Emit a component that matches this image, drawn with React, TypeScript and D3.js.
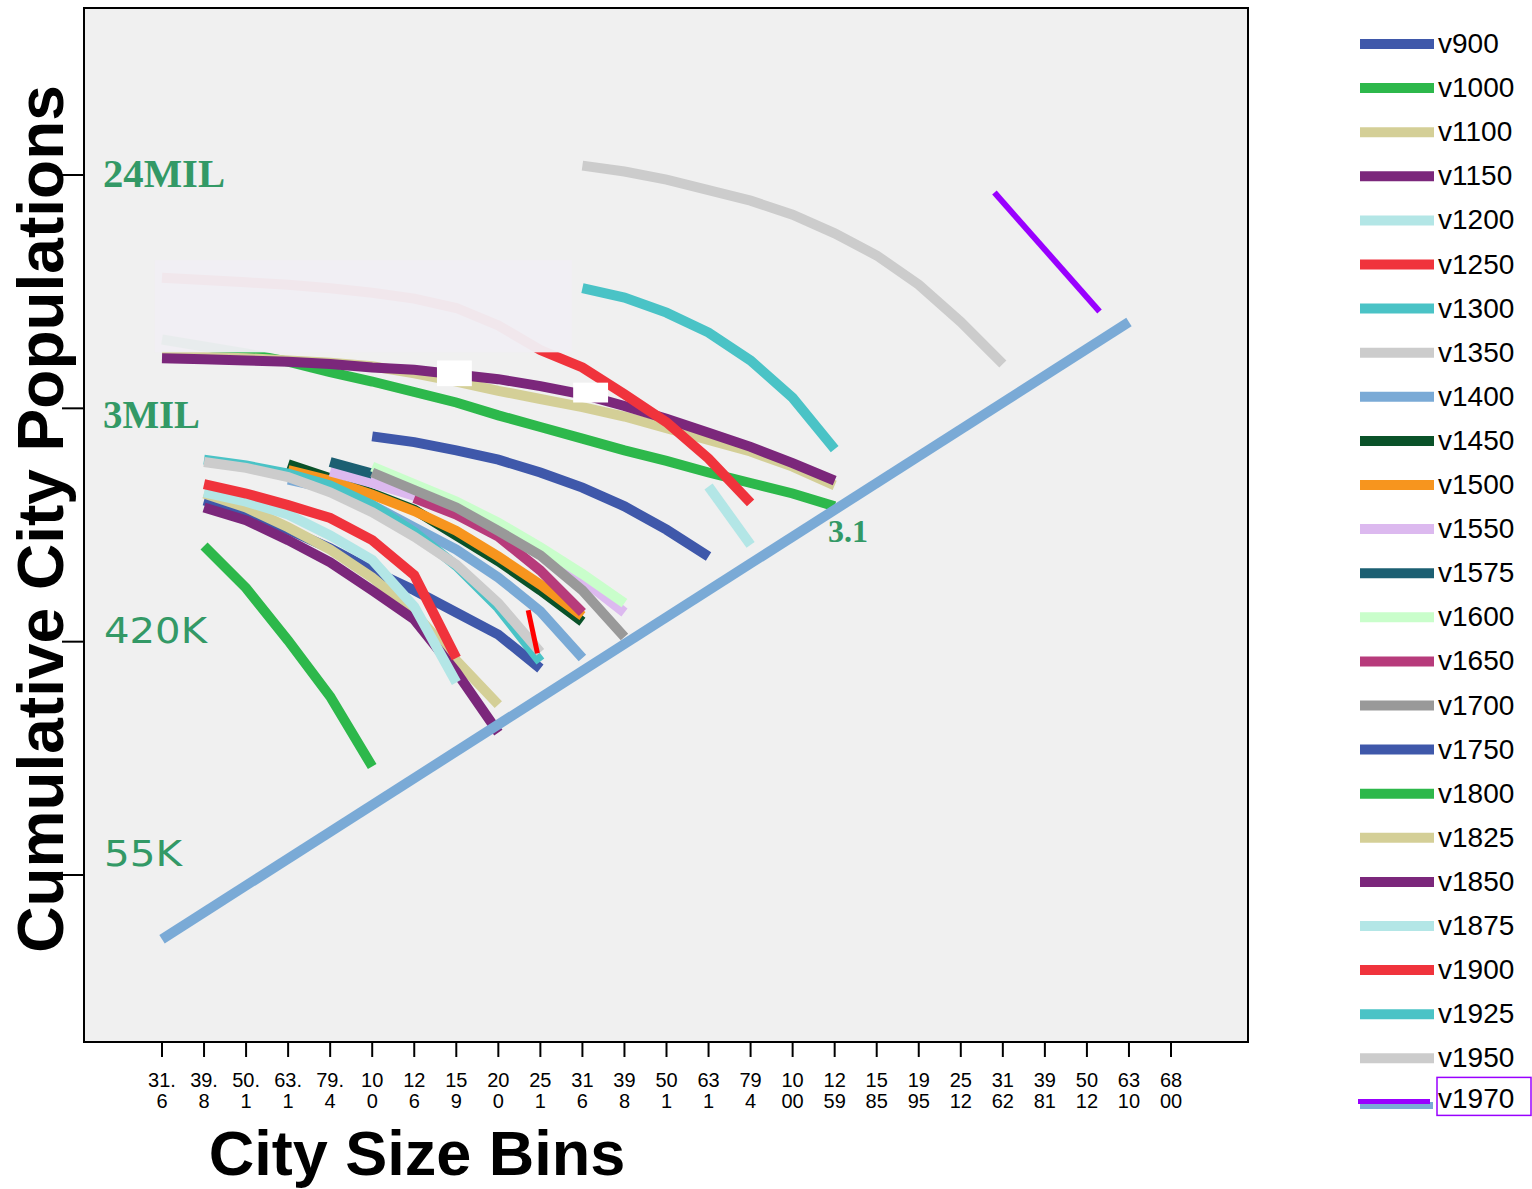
import React from 'react';
import * as d3 from 'd3';

// City size bins (thousands)
const bins = ["31.6","39.8","50.1","63.1","79.4","100","126","159","200","251","316","398","501","631","794","1000","1259","1585","1995","2512","3162","3981","5012","6310","6800"];

const seriesNames = ["v900","v1000","v1100","v1150","v1200","v1250","v1300","v1350","v1400","v1450","v1500","v1550","v1575","v1600","v1650","v1700","v1750","v1800","v1825","v1850","v1875","v1900","v1925","v1950","v1970"];
const seriesColors = ["#3f58aa","#2db84b","#d4cf97","#7b277b","#b3e6e6","#f0333c","#4ac3c6","#cccccc","#7aaad6","#0a5229","#f7951e","#dcb9ef","#1c5f72","#c9fecb","#b73b7b","#999999","#3f58aa","#2db84b","#d4cf97","#7b277b","#b3e6e6","#f0333c","#4ac3c6","#cccccc","#9900ff"];
// bin position (index) of each series' first point
const seriesStart = [5, 0, 0, 0, 13, 0, 10, 10, 3, 3, 3, 4, 4, 5, 6, 5, 1, 1, 1, 1, 1, 1, 1, 1, 19.8];
// spacing between consecutive points (in bins)
const seriesStep = [1,1,1,1,1,1,1,1,1,1,1,1,1,1,1,1,1,1,1,1,1,1,1,1,2.5];

// ln(cumulative city population)
const v900 = [14.76,14.71,14.64,14.56,14.45,14.32,14.16,13.96,13.73];
const v1000 = [15.59,15.53,15.47,15.40,15.31,15.23,15.14,15.05,14.94,14.84,14.74,14.64,14.55,14.45,14.36,14.27,14.16];
const v1100 = [15.45,15.44,15.43,15.41,15.39,15.36,15.30,15.23,15.15,15.08,15.01,14.93,14.83,14.73,14.63,14.50,14.34];
const v1150 = [15.43,15.42,15.41,15.40,15.38,15.35,15.33,15.29,15.25,15.19,15.12,15.02,14.91,14.79,14.67,14.53,14.38];
const v1200 = [14.33,13.83];
const v1250 = [16.12,16.10,16.08,16.06,16.03,15.99,15.94,15.86,15.71,15.50,15.35,15.12,14.88,14.57,14.19];
const v1300 = [16.03,15.95,15.82,15.65,15.41,15.09,14.65];
const v1350 = [17.08,17.03,16.96,16.87,16.78,16.66,16.50,16.31,16.06,15.74,15.38];
const v1400 = [14.39,14.31,14.17,13.98,13.79,13.55,13.26,12.86];
const v1450 = [14.52,14.40,14.27,14.13,13.91,13.69,13.44,13.17];
const v1500 = [14.47,14.38,14.26,14.12,13.95,13.73,13.49,13.22];
const v1550 = [14.46,14.36,14.25,14.11,13.96,13.76,13.53,13.25];
const v1575 = [14.54,14.44];
const v1600 = [14.50,14.35,14.20,14.02,13.81,13.58,13.33];
const v1650 = [14.23,14.09,13.90,13.61,13.25];
const v1700 = [14.45,14.30,14.15,13.95,13.74,13.44,13.04];
const v1750 = [14.21,14.11,13.96,13.80,13.61,13.44,13.25,13.06,12.77];
const v1800 = [13.82,13.46,13.01,12.53,11.93];
const v1825 = [14.27,14.15,13.98,13.79,13.55,13.25,12.84,12.46];
const v1850 = [14.15,14.04,13.87,13.68,13.44,13.19,12.74,12.22];
const v1875 = [14.28,14.20,14.09,13.91,13.70,13.30,12.65];
const v1900 = [14.35,14.27,14.17,14.06,13.87,13.57,12.86];
const v1925 = [14.56,14.51,14.44,14.34,14.17,13.94,13.65,13.29,12.83];
const v1950 = [14.54,14.49,14.41,14.28,14.11,13.90,13.66,13.33,12.91];
const v1970 = [16.85,15.83];
const seriesValues = [v900,v1000,v1100,v1150,v1200,v1250,v1300,v1350,v1400,v1450,v1500,v1550,v1575,v1600,v1650,v1700,v1750,v1800,v1825,v1850,v1875,v1900,v1925,v1950,v1970];

// Reference diagonal
const refBins = ["31.6","6310"];
const refValues = [10.45,15.74];
const refColor = "#7aaad6";

// Small red pen mark (fractional bin positions)
const markPos = [8.71, 8.93];
const markValues = [13.27, 12.90];

// Overlay box and white boxes (bin position / value extents)
const overlayBox = [-0.17, 9.75, 16.27, 15.48];
const whiteBoxes = [[6.54, 7.37, 15.41, 15.19], [9.78, 10.61, 15.22, 15.05]];

const yTicks = [11, 13, 15, 17];

const SANS = "'Liberation Sans', Arial, Helvetica, sans-serif";
const NARROW = "'Liberation Sans Narrow', 'Arial Narrow', 'Liberation Sans', Arial, sans-serif";
const SERIF = "'Liberation Serif', 'Times New Roman', serif";
const GREEN = "#339966";

function splitLabel(s: string): [string, string] {
  if (s.includes('.')) { const i = s.indexOf('.'); return [s.slice(0, i + 1), s.slice(i + 1)]; }
  return [s.slice(0, 2), s.slice(2)];
}

export default function App() {
  const x = d3.scaleLinear().domain([0, bins.length - 1]).range([162, 1171]);
  const y = d3.scaleLinear().domain([11, 17]).range([875, 175]);
  const line = d3.line<[number, number]>().x(d => x(d[0])).y(d => y(d[1]));

  const plotL = 84, plotR = 1248, plotT = 8, plotB = 1042;

  const paths = seriesValues.map((vals, si) => {
    const pts = vals.map((v, i) => [seriesStart[si] + i * seriesStep[si], v] as [number, number]);
    return line(pts) as string;
  });
  const refPath = line(refBins.map((b, i) => [bins.indexOf(b), refValues[i]] as [number, number])) as string;
  const markPath = line(markPos.map((p, i) => [p, markValues[i]] as [number, number])) as string;

  const legX1 = 1360, legX2 = 1434, legY0 = 44, legStep = 44.1;

  return (
    <svg width={1532} height={1189} style={{ position: 'absolute', left: 0, top: 0, background: '#fff' }}>
      <rect x={plotL} y={plotT} width={plotR - plotL} height={plotB - plotT} fill="#f0f0f0" />

      {paths.map((d, i) => (
        <path key={seriesNames[i]} d={d} fill="none" stroke={seriesColors[i]}
          strokeWidth={seriesNames[i] === 'v1970' ? 6 : 10} strokeLinecap="butt" strokeLinejoin="miter" />
      ))}
      <path d={refPath} fill="none" stroke={refColor} strokeWidth={10} />
      <path d={markPath} fill="none" stroke="#ff0000" strokeWidth={5} />

      <rect x={x(overlayBox[0])} y={y(overlayBox[2])} width={x(overlayBox[1]) - x(overlayBox[0])}
        height={y(overlayBox[3]) - y(overlayBox[2])} fill="rgb(240,238,244)" fillOpacity={0.96} />
      {whiteBoxes.map((b, i) => (
        <rect key={i} x={x(b[0])} y={y(b[2])} width={x(b[1]) - x(b[0])} height={y(b[3]) - y(b[2])} fill="#ffffff" />
      ))}

      <rect x={plotL} y={plotT} width={plotR - plotL} height={plotB - plotT} fill="none" stroke="#000" strokeWidth={2} />

      {yTicks.map(t => (
        <line key={t} x1={62} x2={plotL} y1={y(t)} y2={y(t)} stroke="#000" strokeWidth={2} />
      ))}

      {bins.map((b, i) => {
        const [a, c] = splitLabel(b);
        return (
          <g key={b}>
            <line x1={x(i)} x2={x(i)} y1={plotB} y2={1057} stroke="#000" strokeWidth={2} />
            <text x={x(i)} y={1087} textAnchor="middle" fontFamily={NARROW} fontSize={20} fill="#000">{a}</text>
            <text x={x(i)} y={1108} textAnchor="middle" fontFamily={NARROW} fontSize={20} fill="#000">{c}</text>
          </g>
        );
      })}

      <text x={103} y={187} fontFamily={SERIF} fontWeight="bold" fontSize={40} fill={GREEN} textLength={122} lengthAdjust="spacingAndGlyphs">24MIL</text>
      <text x={103} y={428} fontFamily={SERIF} fontWeight="bold" fontSize={40} fill={GREEN} textLength={97} lengthAdjust="spacingAndGlyphs">3MIL</text>
      <text x={104} y={643} fontFamily="'DejaVu Sans', Verdana, sans-serif" fontSize={36} fill={GREEN} textLength={103} lengthAdjust="spacingAndGlyphs">420K</text>
      <text x={104} y={866} fontFamily="'DejaVu Sans', Verdana, sans-serif" fontSize={36} fill={GREEN} textLength={78} lengthAdjust="spacingAndGlyphs">55K</text>
      <text x={828} y={542} fontFamily={SERIF} fontWeight="bold" fontSize={32} fill={GREEN}>3.1</text>

      <text x={417} y={1175} textAnchor="middle" fontFamily={SANS} fontWeight="bold" fontSize={63} fill="#000">City Size Bins</text>
      <text transform="translate(63,519) rotate(-90)" textAnchor="middle" fontFamily={SANS} fontWeight="bold" fontSize={64} fill="#000">Cumulative City Populations</text>

      {seriesNames.map((n, i) => {
        const ly = legY0 + i * legStep;
        const last = n === 'v1970';
        return (
          <g key={n}>
            {last && <line x1={legX1} x2={legX2 - 1} y1={ly + 3} y2={ly + 3} stroke={refColor} strokeWidth={7} />}
            <line x1={last ? legX1 - 2 : legX1} x2={last ? legX2 - 4 : legX2} y1={last ? ly - 1 : ly} y2={last ? ly - 1 : ly}
              stroke={seriesColors[i]} strokeWidth={last ? 5 : 10} />
            <text x={1438} y={last ? ly + 6 : ly + 9} fontFamily={SANS} fontSize={28} fill="#000">{n}</text>
            {last && <rect x={1437} y={ly - 25} width={94} height={38} fill="none" stroke="#9900ff" strokeWidth={1.5} />}
          </g>
        );
      })}
    </svg>
  );
}
